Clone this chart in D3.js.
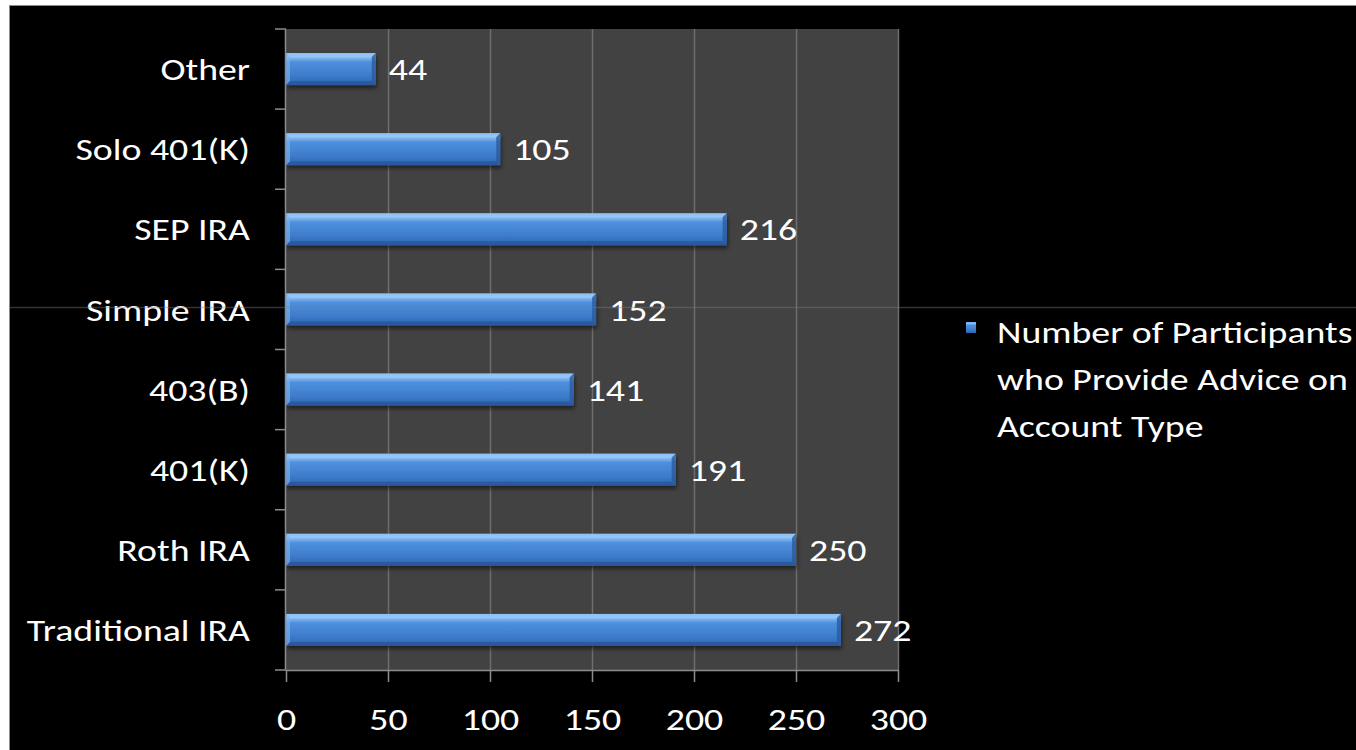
<!DOCTYPE html>
<html>
<head>
<meta charset="utf-8">
<script src="https://cdn.jsdelivr.net/npm/d3@7"></script>
<style>
  html, body { margin: 0; padding: 0; background: #ffffff; }
  svg { display: block; }
  text { font-family: Carlito, Calibri, Lato, "Open Sans", sans-serif; fill: #ffffff; }
</style>
</head>
<body>
<svg id="chart" width="1356" height="750"></svg>
<script>
// Account types (bottom to top) and participant counts
const categories = ["Traditional IRA", "Roth IRA", "401(K)", "403(B)", "Simple IRA", "SEP IRA", "Solo 401(K)", "Other"];
const values = [272, 250, 191, 141, 152, 216, 105, 44];
const xTicks = [0, 50, 100, 150, 200, 250, 300];
const legendLines = ["Number of Participants", "who Provide Advice on", "Account Type"];

const W = 1356, H = 750;
const plot = { left: 286, right: 898, top: 29, bottom: 670 };
const FS = 31;        // font size
const SX = 1.22;      // horizontal stretch of the lettering

const svg = d3.select("#chart");

// Frame: white strip at top/left, black canvas
svg.append("rect").attr("width", W).attr("height", H).attr("fill", "#ffffff");
svg.append("rect").attr("x", 9).attr("y", 5).attr("width", W - 9).attr("height", H - 5).attr("fill", "#8a8a8a");
svg.append("rect").attr("x", 10).attr("y", 6).attr("width", W - 10).attr("height", H - 6).attr("fill", "#000000");

const defs = svg.append("defs");
const grad = defs.append("linearGradient").attr("id", "barGrad").attr("x1", 0).attr("y1", 0).attr("x2", 0).attr("y2", 1);
[[0, "#6aa7ee"], [0.12, "#8cc1f6"], [0.28, "#4f90de"], [0.7, "#3d7cca"], [1, "#2f64ae"]]
  .forEach(([o, c]) => grad.append("stop").attr("offset", o).attr("stop-color", c));
const shadow = defs.append("filter").attr("id", "barShadow").attr("x", "-5%").attr("y", "-30%").attr("width", "115%").attr("height", "180%");
shadow.append("feDropShadow").attr("dx", 1).attr("dy", 3).attr("stdDeviation", 2).attr("flood-color", "#000").attr("flood-opacity", 0.55);

// Scales
const x = d3.scaleLinear().domain([0, 300]).range([plot.left, plot.right]);
const y = d3.scaleBand().domain(categories.slice().reverse()).range([plot.top, plot.bottom])
  .paddingInner(0.6).paddingOuter(0.3);
const yEdge = d3.scaleLinear().domain([0, categories.length]).range([plot.top, plot.bottom]);

// Plot area
svg.append("rect").attr("x", plot.left).attr("y", plot.top)
  .attr("width", plot.right - plot.left).attr("height", plot.bottom - plot.top).attr("fill", "#424242");

// Vertical gridlines
svg.append("g").selectAll("line").data(xTicks.slice(1)).join("line")
  .attr("x1", d => x(d) + 0.5).attr("x2", d => x(d) + 0.5)
  .attr("y1", plot.top).attr("y2", plot.bottom)
  .attr("stroke", "#6e6e6e").attr("stroke-width", 1.5);

// Bars with bevel
const bars = svg.append("g").selectAll("g").data(categories).join("g");
bars.append("rect")
  .attr("x", x(0)).attr("y", d => y(d))
  .attr("width", (d, i) => x(values[i]) - x(0)).attr("height", y.bandwidth())
  .attr("fill", "url(#barGrad)").attr("filter", "url(#barShadow)");
const bv = 4;
bars.append("path")
  .attr("d", (d, i) => {
    const x0 = x(0), x1 = x(values[i]), y0 = y(d);
    return `M${x0},${y0}L${x1},${y0}L${x1 - bv},${y0 + bv}L${x0 + bv},${y0 + bv}Z`;
  })
  .attr("fill", "#9ccbf8").attr("opacity", 0.7);
bars.append("path")
  .attr("d", (d, i) => {
    const x0 = x(0), x1 = x(values[i]), y0 = y(d), y1 = y0 + y.bandwidth();
    return `M${x0},${y1}L${x1},${y1}L${x1 - bv},${y1 - bv}L${x0 + bv},${y1 - bv}Z`;
  })
  .attr("fill", "#274f8f").attr("opacity", 0.6);
bars.append("path")
  .attr("d", (d, i) => {
    const x1 = x(values[i]), y0 = y(d), y1 = y0 + y.bandwidth();
    return `M${x1},${y0}L${x1},${y1}L${x1 - bv},${y1 - bv}L${x1 - bv},${y0 + bv}Z`;
  })
  .attr("fill", "#2b5a9e").attr("opacity", 0.8);
bars.append("path")
  .attr("d", (d, i) => {
    const x0 = x(0), y0 = y(d), y1 = y0 + y.bandwidth();
    return `M${x0},${y0}L${x0 + bv},${y0 + bv}L${x0 + bv},${y1 - bv}L${x0},${y1}Z`;
  })
  .attr("fill", "#7fb6f2").attr("opacity", 0.6);

// Value labels
bars.append("text")
  .attr("transform", (d, i) => `translate(${x(values[i]) + 13},${y(d) + y.bandwidth() / 2}) scale(${SX},1)`)
  .attr("dy", "0.36em")
  .attr("font-size", FS)
  .text((d, i) => values[i]);

// Axes
const axisColor = "#8c8c8c";
svg.append("line").attr("x1", plot.left - 0.5).attr("x2", plot.left - 0.5)
  .attr("y1", plot.top).attr("y2", plot.bottom).attr("stroke", axisColor).attr("stroke-width", 1.5);
svg.append("g").selectAll("line").data(d3.range(categories.length + 1)).join("line")
  .attr("x1", plot.left - 11).attr("x2", plot.left)
  .attr("y1", d => yEdge(d)).attr("y2", d => yEdge(d))
  .attr("stroke", axisColor).attr("stroke-width", 1.5);

const xAxis = svg.append("g").attr("transform", `translate(0,${plot.bottom})`)
  .call(d3.axisBottom(x).tickValues(xTicks).tickSize(12).tickSizeOuter(0).tickPadding(26));
xAxis.select(".domain").attr("stroke", axisColor).attr("stroke-width", 1.5);
xAxis.selectAll(".tick line").attr("stroke", axisColor).attr("stroke-width", 1.5);
xAxis.selectAll(".tick text").attr("font-size", FS).attr("fill", "#ffffff")
  .attr("transform", `scale(${SX},1)`)
  .style("font-family", "Carlito, Calibri, Lato, 'Open Sans', sans-serif");

// Category labels
svg.append("g").selectAll("text").data(categories).join("text")
  .attr("transform", d => `translate(250,${y(d) + y.bandwidth() / 2}) scale(${SX},1)`)
  .attr("dy", "0.36em").attr("text-anchor", "end").attr("font-size", FS)
  .text(d => d);

// Legend
const legend = svg.append("g").attr("transform", "translate(966,322)");
legend.append("rect").attr("width", 10).attr("height", 11).attr("fill", "url(#barGrad)");
legend.selectAll("text").data(legendLines).join("text")
  .attr("transform", (d, i) => `translate(31,${21 + i * 47}) scale(${SX},1)`)
  .attr("font-size", FS).text(d => d);

// Thin horizontal rule across the canvas
svg.append("line").attr("x1", 10).attr("x2", W).attr("y1", 307.5).attr("y2", 307.5)
  .attr("stroke", "rgba(128,128,128,0.4)").attr("stroke-width", 1.5);
</script>
</body>
</html>
